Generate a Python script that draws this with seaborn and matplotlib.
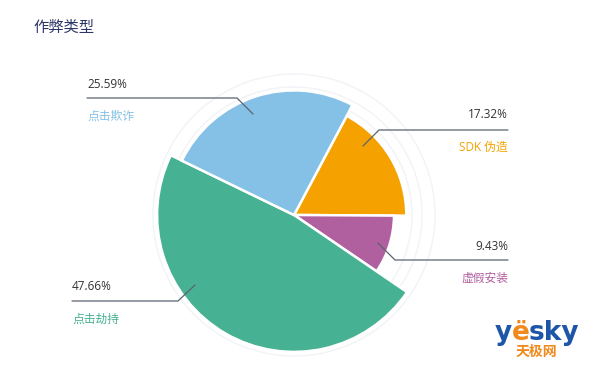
import numpy as np
import matplotlib
matplotlib.use("Agg")
import matplotlib.pyplot as plt
from matplotlib.lines import Line2D
import seaborn as sns

sns.set_style("white")
plt.rcParams['font.family'] = ['Open Sans', 'Noto Sans CJK SC', 'DejaVu Sans']

# data, clockwise order as drawn
categories = ["SDK 伪造", "虚假安装", "点击劫持", "点击欺诈"]
values = [17.32, 9.43, 47.66, 25.59]
colors = ["#f5a200", "#b05f9f", "#47b293", "#85c1e6"]
pct_labels = ["17.32%", "9.43%", "47.66%", "25.59%"]

W, H = 600, 373
fig = plt.figure(figsize=(6, 3.73), dpi=100)

# polar axes centred on the pie, 1 data unit = 1 px
cx, cy, R = 294, 215, 150
ax = fig.add_axes([(cx - R) / W, (H - cy - R) / H, 2 * R / W, 2 * R / H], projection="polar")
ax.set_theta_zero_location("N")
ax.set_theta_direction(-1)
ax.set_ylim(0, R)
ax.axis("off")

# slice angles
start = np.deg2rad(28)
widths = np.array(values) / sum(values) * 2 * np.pi
lefts = start + np.concatenate([[0], np.cumsum(widths)[:-1]])
# rose radius by rank of value
ranks = np.argsort(np.argsort(values))
radii = 100 + 12.3 * ranks

# faint guide rings
th = np.linspace(0, 2 * np.pi, 300)
for r in [118, 128, 141]:
    ax.plot(th, np.full_like(th, r), color="#f1f3f7", lw=1, zorder=0)

ax.bar(lefts, radii, width=widths, bottom=0, align="edge", color=colors,
       edgecolor="white", linewidth=1.8, zorder=2)


def fx(x):
    return x / W


def fy(y):
    return 1 - y / H


# labels: (text x, align, pct y, line y, label y, line end x, anchor point)
label_pos = {
    "点击欺诈": (87, "left", 84, 98, 116, 237, (253, 114)),
    "SDK 伪造": (508, "right", 115, 130, 147, 379, (363, 146)),
    "虚假安装": (508, "right", 246, 260, 278, 395, (378, 243)),
    "点击劫持": (72, "left", 287, 301, 319, 178, (195, 285)),
}

for cat, pct, col in zip(categories, pct_labels, colors):
    tx, ha, py, ly, cy2, ex, (axp, ayp) = label_pos[cat]
    fig.text(fx(tx), fy(py), pct, ha=ha, va="center", fontsize=8.5, color="#333333")
    fig.text(fx(tx), fy(cy2), cat, ha=ha, va="center", fontsize=8.5, color=col)
    fig.add_artist(Line2D([fx(tx), fx(ex), fx(axp)], [fy(ly), fy(ly), fy(ayp)],
                          color="#5c6370", lw=0.9))

fig.text(fx(33), fy(27), "作弊类型", ha="left", va="center", fontsize=11,
         color="#2c3566", family=['Noto Sans CJK SC', 'DejaVu Sans'])

# watermark logo
fig.text(fx(495), fy(333), "y", ha="left", va="center", fontsize=19, fontweight="bold",
         color="#1d56a8", family=['DejaVu Sans'])
fig.text(fx(512), fy(333), "ë", ha="left", va="center", fontsize=19, fontweight="bold",
         color="#f08a1c", family=['DejaVu Sans'])
fig.text(fx(529), fy(333), "sky", ha="left", va="center", fontsize=19, fontweight="bold",
         color="#1d56a8", family=['DejaVu Sans'])
fig.text(fx(536), fy(352), "天极网", ha="center", va="center", fontsize=10, fontweight="bold",
         color="#f08a1c", family=['Noto Sans CJK SC', 'DejaVu Sans'])

fig.savefig("out.png", dpi=100, facecolor="white")
